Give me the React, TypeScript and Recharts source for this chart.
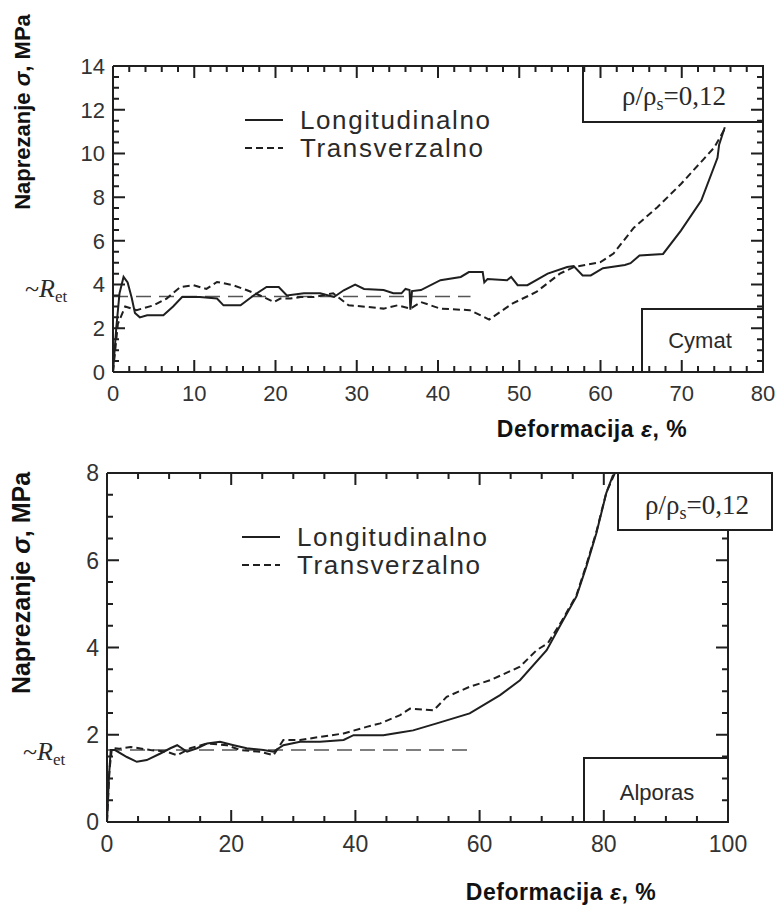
import { LineChart, Line, XAxis, YAxis, Legend } from 'recharts'

// Cymat foam, rho/rho_s = 0.12
const cymatLong = [
  [0, 0], [0.4, 2.0], [0.8, 3.6], [1.3, 4.35], [1.8, 4.1], [2.3, 3.4], [2.7, 2.7], [3.3, 2.5],
  [4.2, 2.6], [6.2, 2.6], [7.4, 3.0], [8.5, 3.43], [10.7, 3.43], [12.8, 3.36], [13.6, 3.05],
  [15.7, 3.05], [17.3, 3.5], [18.9, 3.89], [20.4, 3.89], [21.4, 3.5], [23.5, 3.6], [25.5, 3.6],
  [27.2, 3.43], [28.4, 3.74], [29.8, 4.0], [30.9, 3.8], [33.3, 3.75], [34.5, 3.6], [35.5, 3.6],
  [36.0, 3.8], [36.5, 3.75], [36.6, 2.85], [36.8, 3.7], [37.9, 3.75], [40.3, 4.2], [42.8, 4.35],
  [43.8, 4.57], [45.5, 4.57], [45.7, 4.1], [46.1, 4.25], [48.5, 4.2], [49.0, 4.35], [49.8, 3.97],
  [51.0, 3.97], [53.5, 4.5], [55.9, 4.8], [56.7, 4.85], [57.8, 4.42], [58.8, 4.42], [60.3, 4.75],
  [63.0, 4.9], [63.7, 4.98], [64.8, 5.33], [67.7, 5.4], [69.9, 6.47], [72.4, 7.84], [74.4, 9.8],
  [74.6, 10.4], [75.3, 11.2],
]
const cymatTrans = [
  [0, 0], [0.6, 2.2], [1.5, 3.0], [2.9, 2.83], [5.0, 3.05], [6.6, 3.36], [8.3, 3.89], [9.9, 3.97],
  [11.5, 3.8], [12.8, 4.12], [14.8, 3.97], [16.5, 3.74], [18.1, 3.5], [19.8, 3.2], [20.6, 3.36],
  [21.8, 3.36], [23.1, 3.43], [24.7, 3.43], [27.1, 3.6], [29.0, 3.05], [31.3, 2.98], [33.3, 2.9],
  [35.0, 3.05], [36.6, 2.9], [37.9, 3.2], [40.3, 2.9], [43.9, 2.83], [46.3, 2.4], [49.2, 3.14],
  [52.1, 3.66], [55.0, 4.5], [56.7, 4.8], [60.0, 5.03], [61.6, 5.42], [64.1, 6.6], [67.0, 7.54],
  [69.9, 8.6], [74.0, 10.27], [75.4, 11.2],
]
const cymatRet = [[0, 3.45], [44, 3.45]]

// Alporas foam, rho/rho_s = 0.12
const alporasLong = [
  [0, 0], [0.3, 1.0], [0.6, 1.65], [1.3, 1.65], [3.2, 1.49], [4.8, 1.38], [6.4, 1.42], [8.6, 1.57],
  [10.2, 1.69], [11.3, 1.76], [12.9, 1.61], [14.5, 1.69], [16.1, 1.8], [18.2, 1.84], [20.4, 1.76],
  [22.5, 1.69], [25.2, 1.65], [26.8, 1.61], [28.4, 1.76], [31.1, 1.84], [34.3, 1.84], [38.1, 1.88],
  [39.7, 1.99], [44.5, 1.99], [47.2, 2.05], [49.3, 2.1], [53.1, 2.26], [58.4, 2.49], [63.3, 2.91],
  [66.5, 3.25], [70.8, 3.94], [73.2, 4.56], [75.6, 5.17], [77.2, 5.86], [78.8, 6.62], [80.4, 7.54],
  [81.5, 7.96],
]
const alporasTrans = [
  [0, 0], [0.4, 1.2], [0.8, 1.7], [2.0, 1.68], [3.8, 1.72], [7.0, 1.65], [9.6, 1.61], [11.3, 1.53],
  [13.4, 1.69], [16.1, 1.8], [19.3, 1.76], [21.5, 1.65], [24.7, 1.61], [26.8, 1.53], [28.4, 1.88],
  [31.1, 1.88], [34.3, 1.95], [38.1, 2.03], [41.8, 2.18], [44.0, 2.26], [47.2, 2.45], [48.8, 2.6],
  [52.6, 2.56], [54.7, 2.87], [58.4, 3.1], [61.7, 3.25], [66.5, 3.56], [69.2, 3.94], [71.0, 4.1],
  [73.2, 4.6], [75.6, 5.2], [77.2, 5.9], [78.8, 6.65], [80.4, 7.55], [81.8, 8.0],
]
const alporasRet = [[0, 1.65], [58, 1.65]]

const seriesNames = ['Longitudinalno', 'Transverzalno']
const xTitle = 'Deformacija'
const yTitle = 'Naprezanje'

// tick positions
const range = (a: number, b: number, s: number) => {
  const out: number[] = []
  for (let i = 0; a + i * s <= b + 1e-9; i++) out.push(+(a + i * s).toFixed(3))
  return out
}
const topXMajor = range(0, 80, 10)
const topXMinor = range(0, 80, 2)
const topYMajor = range(0, 14, 2)
const topYMinor = range(0, 14, 0.5)
const botXMajor = range(0, 100, 20)
const botXMinor = range(0, 100, 5)
const botYMajor = range(0, 8, 2)
const botYMinor = range(0, 8, 0.5)

const INK = '#1f1f1f'
const LABEL = '#333'
const SANS = '"Liberation Sans", Arial, sans-serif'
const SERIF = '"Liberation Serif", "Times New Roman", serif'

const toPts = (arr: number[][]) => arr.map(([x, y]) => ({ x, y }))
const isMult = (v: number, s: number) => Math.abs(v / s - Math.round(v / s)) < 1e-6

const dashes: Record<string, string | undefined> = {
  Longitudinalno: undefined,
  Transverzalno: '7 4',
}

const MAJ = 12
const MIN = 6

const bottomLabel = (fs: number) => (props: any) => (
  <text x={props.x} y={props.y + fs + 7} textAnchor="middle" fill={LABEL}
    fontSize={fs} fontFamily={SANS}>{props.payload.value}</text>
)
const leftLabel = (fs: number) => (props: any) => (
  <text x={props.x - 8} y={props.y + fs * 0.36} textAnchor="end" fill={LABEL}
    fontSize={fs} fontFamily={SANS}>{props.payload.value}</text>
)

function LegendBox({ payload }: any) {
  const items = (payload || []).filter((p: any) => seriesNames.includes(p.value))
  return (
    <div>
      {items.map((p: any) => (
        <div key={p.value} style={{ display: 'flex', alignItems: 'center', height: 28 }}>
          <svg width={60} height={28}>
            <line x1={5} x2={43} y1={14} y2={14} stroke={INK} strokeWidth={2}
              strokeDasharray={dashes[p.value]} />
          </svg>
          <span style={{ fontFamily: SANS, fontSize: 26, color: '#2a2a2a', letterSpacing: 1.6, lineHeight: '28px' }}>
            {p.value}
          </span>
        </div>
      ))}
    </div>
  )
}

interface Box { left: number; top: number; right: number; bottom: number }

interface PanelProps {
  width: number
  height: number
  margin: { top: number; right: number; bottom: number; left: number }
  xMax: number
  yMax: number
  xMajor: number[]
  yMajor: number[]
  fs: number
  long: number[][]
  trans: number[][]
  ret: number[][]
  legendPos: { left: number; top: number }
}

// axes are 1px thick (0 would make recharts skip them), margins are reduced to match
function Panel(p: PanelProps) {
  const axisLine = { stroke: INK, strokeWidth: 2 }
  const m = { top: p.margin.top - 1, right: p.margin.right - 1, bottom: p.margin.bottom - 1, left: p.margin.left - 1 }
  const xd: [number, number] = [0, p.xMax]
  const yd: [number, number] = [0, p.yMax]
  return (
    <LineChart width={p.width} height={p.height} margin={m}>
      <XAxis xAxisId="b" dataKey="x" type="number" domain={xd} ticks={p.xMajor} interval={0} height={1}
        tickSize={0} tickMargin={0} tickLine={false} axisLine={axisLine} tick={bottomLabel(p.fs)} />
      <XAxis xAxisId="t" orientation="top" dataKey="x" type="number" domain={xd} ticks={p.xMajor} interval={0}
        height={1} tickSize={0} tickLine={false} axisLine={axisLine} tick={false} />
      <YAxis yAxisId="l" dataKey="y" type="number" domain={yd} ticks={p.yMajor} interval={0} width={1}
        tickSize={0} tickMargin={0} tickLine={false} axisLine={axisLine} tick={leftLabel(p.fs)} />
      <YAxis yAxisId="r" orientation="right" type="number" domain={yd} ticks={p.yMajor} interval={0} width={1}
        tickSize={0} tickLine={false} axisLine={axisLine} tick={false} />
      <Line xAxisId="b" yAxisId="l" data={toPts(p.ret)} dataKey="y" name="ret" legendType="none"
        stroke="#555" strokeWidth={1.5} strokeDasharray="15 8" dot={false} isAnimationActive={false} />
      <Line xAxisId="b" yAxisId="l" data={toPts(p.trans)} dataKey="y" name={seriesNames[1]}
        stroke={INK} strokeWidth={2} strokeDasharray={dashes[seriesNames[1]]} dot={false}
        type="linear" isAnimationActive={false} />
      <Line xAxisId="b" yAxisId="l" data={toPts(p.long)} dataKey="y" name={seriesNames[0]}
        stroke={INK} strokeWidth={2} dot={false} type="linear" isAnimationActive={false} />
      <Legend layout="vertical" align="center" verticalAlign="middle" content={<LegendBox />}
        wrapperStyle={{ left: p.legendPos.left, top: p.legendPos.top, width: 'auto' }} />
    </LineChart>
  )
}

// inward tick marks on the frame, placed by the same linear mapping as the axes
function FrameTicks({ b, xMax, yMax, xMinor, yMinor, xStep, yStep }: {
  b: Box; xMax: number; yMax: number; xMinor: number[]; yMinor: number[]; xStep: number; yStep: number
}) {
  const px = (v: number) => b.left + (v / xMax) * (b.right - b.left)
  const py = (v: number) => b.bottom - (v / yMax) * (b.bottom - b.top)
  let d = ''
  xMinor.forEach((v) => {
    const l = isMult(v, xStep) ? MAJ : MIN
    const x = px(v)
    d += `M${x},${b.bottom}v${-l}M${x},${b.top}v${l}`
  })
  yMinor.forEach((v) => {
    const l = isMult(v, yStep) ? MAJ : MIN
    const y = py(v)
    d += `M${b.left},${y}h${l}M${b.right},${y}h${-l}`
  })
  return <path d={d} stroke={INK} strokeWidth={2} fill="none" />
}

function YTitle({ x, y, fs }: { x: number; y: number; fs: number }) {
  return (
    <text transform={`translate(${x},${y}) rotate(-90)`} textAnchor="middle" fontFamily={SANS}
      fontWeight="bold" fontSize={fs} fill="#111">
      {yTitle} <tspan fontStyle="italic">σ</tspan>, MPa
    </text>
  )
}

function XTitle({ x, y }: { x: number; y: number }) {
  return (
    <text x={x} y={y} textAnchor="middle" fontFamily={SANS} fontWeight="bold" fontSize={23}
      letterSpacing={0.5} fill="#111">
      {xTitle} <tspan fontStyle="italic">ε</tspan>, %
    </text>
  )
}

function Ret({ x, y }: { x: number; y: number }) {
  return (
    <text x={x} y={y} fontFamily={SERIF} fontSize={26} fill="#2a2a2a">
      ~<tspan fontStyle="italic">R</tspan><tspan fontSize={17} dy={5}>et</tspan>
    </text>
  )
}

function Rho({ x, y }: { x: number; y: number }) {
  return (
    <text x={x} y={y} textAnchor="middle" fontFamily={SERIF} fontSize={27} fill="#2a2a2a">
      ρ/ρ<tspan fontSize={18} dy={5}>s</tspan><tspan dy={-5}>=0,12</tspan>
    </text>
  )
}

const topMargin = { top: 66, right: 14, bottom: 68, left: 113 }
const botMargin = { top: 33, right: 49, bottom: 84, left: 107 }
const BOT_Y = 440

export default function App() {
  const topBox: Box = { left: topMargin.left, top: topMargin.top, right: 777 - topMargin.right, bottom: 440 - topMargin.bottom }
  const botBox: Box = {
    left: botMargin.left, top: BOT_Y + botMargin.top, right: 777 - botMargin.right, bottom: BOT_Y + 466 - botMargin.bottom,
  }
  return (
    <div style={{ position: 'absolute', left: 0, top: 0, width: 777, height: 906, background: '#fff' }}>
      <div style={{ position: 'absolute', left: 0, top: 0 }}>
        <Panel width={777} height={440} margin={topMargin} xMax={80} yMax={14} xMajor={topXMajor}
          yMajor={topYMajor} fs={22} long={cymatLong} trans={cymatTrans} ret={cymatRet}
          legendPos={{ left: 240, top: 106 }} />
      </div>
      <div style={{ position: 'absolute', left: 0, top: BOT_Y }}>
        <Panel width={777} height={466} margin={botMargin} xMax={100} yMax={8} xMajor={botXMajor}
          yMajor={botYMajor} fs={23} long={alporasLong} trans={alporasTrans} ret={alporasRet}
          legendPos={{ left: 237, top: 83 }} />
      </div>
      <svg width={777} height={906} style={{ position: 'absolute', left: 0, top: 0, pointerEvents: 'none' }}>
        <FrameTicks b={topBox} xMax={80} yMax={14} xMinor={topXMinor} yMinor={topYMinor} xStep={10} yStep={2} />
        <FrameTicks b={botBox} xMax={100} yMax={8} xMinor={botXMinor} yMinor={botYMinor} xStep={20} yStep={2} />
        <YTitle x={30} y={112} fs={22} />
        <YTitle x={30} y={583} fs={25} />
        <XTitle x={592} y={437} />
        <XTitle x={561} y={900} />
        <Ret x={25} y={297} />
        <Ret x={23} y={760} />
        <g fill="none" stroke={INK} strokeWidth={2}>
          <rect x={583} y={66} width={180} height={56} />
          <rect x={642} y={309} width={121} height={63} />
          <rect x={618} y={473} width={154} height={57} fill="#fff" />
          <rect x={584} y={758} width={144} height={64} />
        </g>
        <Rho x={674} y={105} />
        <Rho x={697} y={514} />
        <text x={700} y={348} textAnchor="middle" fontFamily={SANS} fontSize={22} fill="#2a2a2a">Cymat</text>
        <text x={657} y={800} textAnchor="middle" fontFamily={SANS} fontSize={22} fill="#2a2a2a">Alporas</text>
      </svg>
    </div>
  )
}
